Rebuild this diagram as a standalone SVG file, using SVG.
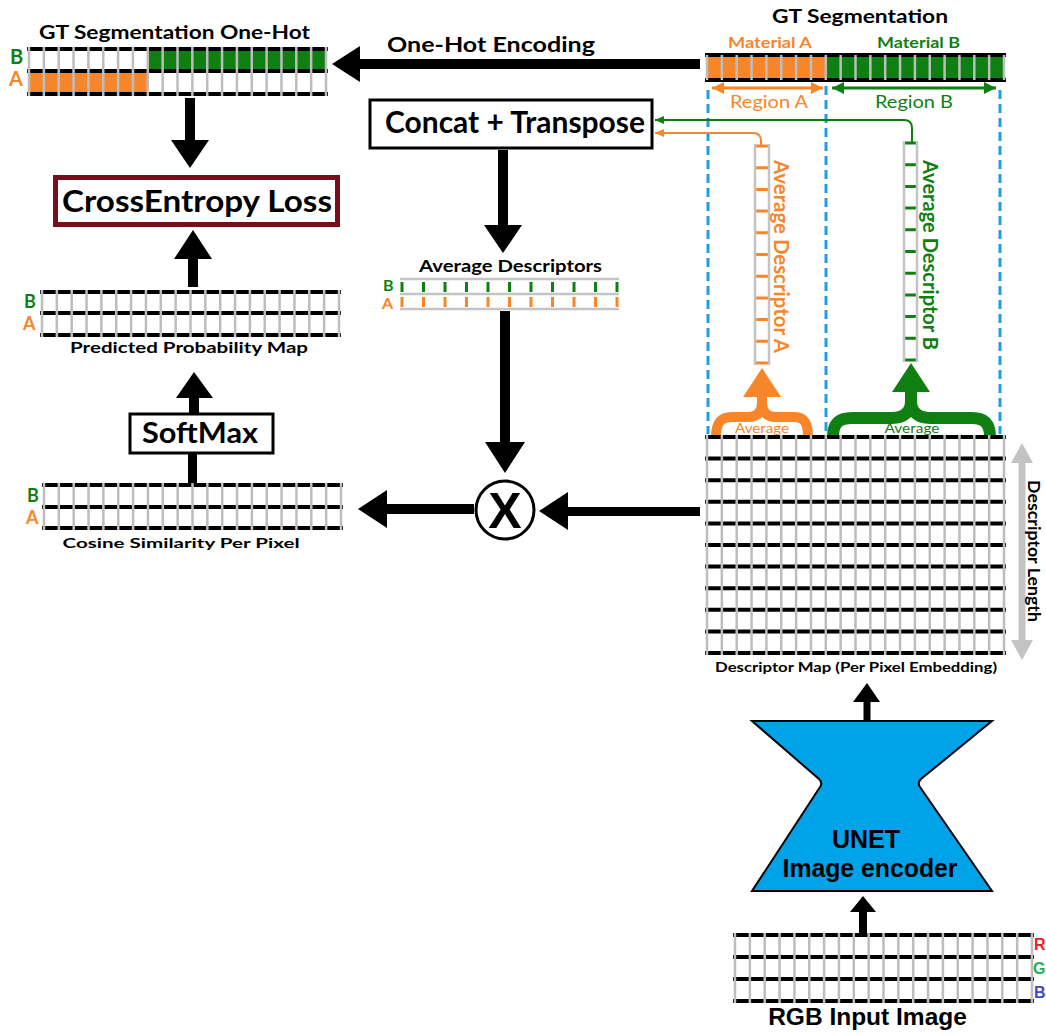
<svg xmlns="http://www.w3.org/2000/svg" width="1046" height="1036" viewBox="0 0 1046 1036">
<style>
.t{font-family:Lato,"Open Sans","Liberation Sans",sans-serif;font-weight:700;fill:#000}
.n{font-family:Lato,"Open Sans","Liberation Sans",sans-serif;font-weight:400}
.a{font-family:"Liberation Sans",Arial,sans-serif;font-weight:700}
.or{fill:#f7862b}.gr{fill:#0f7f12}
.hb{stroke:#000;stroke-width:4}
.vg{stroke:#bdbdbd;stroke-dasharray:2.5 12.35}
.gh{stroke:#c4c4c4;stroke-width:2.5}
.box{fill:#fff;stroke:#000;stroke-width:3}
.blk{fill:#000}
.dash{stroke:#1aa1e3;stroke-width:3;stroke-dasharray:9 5;fill:none}
</style>
<defs>
<marker id="mo" markerUnits="userSpaceOnUse" markerWidth="12" markerHeight="12" refX="12" refY="6" orient="auto-start-reverse"><path d="M0,0 L12,6 L0,12 z" fill="#f7862b"/></marker>
<marker id="mg" markerUnits="userSpaceOnUse" markerWidth="12" markerHeight="12" refX="12" refY="6" orient="auto-start-reverse"><path d="M0,0 L12,6 L0,12 z" fill="#0f7f12"/></marker>
<marker id="so" markerUnits="userSpaceOnUse" markerWidth="9" markerHeight="9" refX="9" refY="4.5" orient="auto"><path d="M0,0.5 L9,4.5 L0,8.5 z" fill="#f7862b"/></marker>
<marker id="sg" markerUnits="userSpaceOnUse" markerWidth="9" markerHeight="9" refX="9" refY="4.5" orient="auto"><path d="M0,0.5 L9,4.5 L0,8.5 z" fill="#0f7f12"/></marker>
</defs>

<!-- region guides -->
<g id="region-guides">
<line class="dash" x1="708" y1="90" x2="708" y2="434"/>
<line class="dash" x1="826" y1="86" x2="826" y2="434"/>
<line class="dash" x1="1000" y1="90" x2="1000" y2="434"/>
<line x1="712" y1="88" x2="823" y2="88" stroke="#f7862b" stroke-width="3" marker-start="url(#mo)" marker-end="url(#mo)"/>
<line x1="832" y1="88" x2="996" y2="88" stroke="#0f7f12" stroke-width="3" marker-start="url(#mg)" marker-end="url(#mg)"/>
<text class="n or" x="769" y="108" font-size="17" text-anchor="middle" textLength="78" lengthAdjust="spacingAndGlyphs">Region A</text>
<text class="n gr" x="914" y="108" font-size="17" text-anchor="middle" textLength="78" lengthAdjust="spacingAndGlyphs">Region B</text>
</g>

<!-- GT segmentation one-hot -->
<g id="gt-onehot">
<text class="t" x="174.5" y="39" font-size="18" text-anchor="middle" textLength="271" lengthAdjust="spacingAndGlyphs">GT Segmentation One-Hot</text>
<rect x="147.8" y="49" width="178.2" height="22" fill="#0f7f12"/>
<rect x="29" y="71" width="118.8" height="23" fill="#f7862b"/>
<line class="hb" x1="27" y1="49" x2="328" y2="49"/>
<line class="hb" x1="27" y1="71" x2="328" y2="71"/>
<line class="hb" x1="27" y1="94" x2="328" y2="94"/>
<line class="vg" x1="27.75" y1="71.5" x2="327.25" y2="71.5" stroke-width="49"/>
<text class="t gr" x="10" y="64" font-size="20">B</text>
<text class="t or" x="9" y="86" font-size="20">A</text>
</g>

<!-- GT segmentation -->
<g id="gt-seg">
<text class="t" x="860" y="23" font-size="19" text-anchor="middle" textLength="176" lengthAdjust="spacingAndGlyphs">GT Segmentation</text>
<text class="t or" x="770" y="48" font-size="15" text-anchor="middle" textLength="84" lengthAdjust="spacingAndGlyphs">Material A</text>
<text class="t gr" x="918.5" y="48" font-size="15" text-anchor="middle" textLength="83" lengthAdjust="spacingAndGlyphs">Material B</text>
<rect x="707" y="55" width="118.8" height="25" fill="#f7862b"/>
<rect x="825.8" y="55" width="178.2" height="25" fill="#0f7f12"/>
<line class="hb" x1="705" y1="55" x2="1006" y2="55"/>
<line class="hb" x1="705" y1="80" x2="1006" y2="80"/>
<line class="vg" x1="705.75" y1="67.5" x2="1005.25" y2="67.5" stroke-width="25"/>
</g>

<!-- Concat + Transpose -->
<g id="concat">
<rect class="box" x="370" y="100" width="282" height="48"/>
<text class="t" x="515" y="133" font-size="31" text-anchor="middle" textLength="260" lengthAdjust="spacingAndGlyphs">Concat + Transpose</text>
</g>

<!-- Average descriptor A -->
<g id="avg-desc-a">
<path d="M755,146 H769 M755,167.7 H769 M755,189.4 H769 M755,211.1 H769 M755,232.8 H769 M755,254.5 H769 M755,276.2 H769 M755,297.9 H769 M755,319.6 H769 M755,341.3 H769 M755,363 H769" stroke="#f7862b" stroke-width="3"/>
<path d="M755,144 V365 M769,144 V365" stroke="#c4c4c4" stroke-width="2.5"/>
<text class="t or" transform="translate(774,160) rotate(90)" font-size="20" textLength="193" lengthAdjust="spacingAndGlyphs">Average Descriptor A</text>
</g>

<!-- Average descriptor B -->
<g id="avg-desc-b">
<path d="M904,143 H917 M904,164.7 H917 M904,186.4 H917 M904,208.1 H917 M904,229.8 H917 M904,251.5 H917 M904,273.2 H917 M904,294.9 H917 M904,316.6 H917 M904,338.3 H917 M904,360 H917" stroke="#0f7f12" stroke-width="3"/>
<path d="M904,141 V362 M917,141 V362" stroke="#c4c4c4" stroke-width="2.5"/>
<text class="t gr" transform="translate(923,160) rotate(90)" font-size="20" textLength="190" lengthAdjust="spacingAndGlyphs">Average Descriptor B</text>
</g>

<!-- Average operations -->
<g id="average-a">
<path d="M716,437 C716,424 720,417 732,417 L748,417 C757,417 762,412 762,403 C762,412 767,417 776,417 L794,417 C805,417 808,424 808,437" fill="none" stroke="#f7862b" stroke-width="10"/>
<rect x="757" y="395" width="10" height="18" fill="#f7862b"/>
<polygon points="743,397 781,397 762,368" fill="#f7862b"/>
<text class="n or" x="762" y="433" font-size="13" text-anchor="middle" textLength="54" lengthAdjust="spacingAndGlyphs">Average</text>
</g>
<g id="average-b">
<path d="M833,437 C833,424 838,418 852,418 L892,418 C904,418 911,412 911,401 C911,412 918,418 930,418 L972,418 C985,418 990,424 990,437" fill="none" stroke="#0f7f12" stroke-width="12"/>
<rect x="905" y="390" width="12" height="22" fill="#0f7f12"/>
<polygon points="892,392 930,392 911,363" fill="#0f7f12"/>
<text class="n gr" x="912" y="433" font-size="13" text-anchor="middle" textLength="55" lengthAdjust="spacingAndGlyphs">Average</text>
</g>

<!-- Average descriptors (transposed) -->
<g id="avg-descriptors">
<text class="t" x="510.5" y="272" font-size="17" text-anchor="middle" textLength="183" lengthAdjust="spacingAndGlyphs">Average Descriptors</text>
<path d="M400,279 H619 M400,294 H619 M400,309 H619" class="gh"/>
<path d="M402,282 V292 M423.5,282 V292 M445,282 V292 M466.5,282 V292 M488,282 V292 M509.5,282 V292 M531,282 V292 M552.5,282 V292 M574,282 V292 M595.5,282 V292 M617,282 V292" stroke="#0f7f12" stroke-width="3"/>
<path d="M402,297 V307 M423.5,297 V307 M445,297 V307 M466.5,297 V307 M488,297 V307 M509.5,297 V307 M531,297 V307 M552.5,297 V307 M574,297 V307 M595.5,297 V307 M617,297 V307" stroke="#f7862b" stroke-width="3"/>
<text class="t gr" x="383" y="291" font-size="16">B</text>
<text class="t or" x="382" y="308.5" font-size="16">A</text>
</g>

<!-- Multiply -->
<g id="multiply">
<circle cx="505" cy="510" r="29" fill="#fff" stroke="#000" stroke-width="3"/>
<text class="a" x="505" y="528" font-size="50" text-anchor="middle">X</text>
</g>

<!-- CrossEntropy Loss -->
<g id="crossentropy">
<rect x="55.5" y="177.5" width="282" height="47" fill="#fff" stroke="#7b0c1c" stroke-width="5"/>
<text class="t" x="197" y="212" font-size="30" text-anchor="middle" textLength="270" lengthAdjust="spacingAndGlyphs">CrossEntropy Loss</text>
</g>

<!-- Predicted probability map -->
<g id="prob-map">
<line class="hb" x1="40" y1="292" x2="341" y2="292"/>
<line class="hb" x1="40" y1="313" x2="341" y2="313"/>
<line class="hb" x1="40" y1="335" x2="341" y2="335"/>
<line class="vg" x1="40.75" y1="313.5" x2="340.25" y2="313.5" stroke-width="47"/>
<text class="t gr" x="24" y="308" font-size="18">B</text>
<text class="t or" x="23" y="330" font-size="18">A</text>
<text class="t" x="189" y="353" font-size="15" text-anchor="middle" textLength="238" lengthAdjust="spacingAndGlyphs">Predicted Probability Map</text>
</g>

<!-- SoftMax -->
<g id="softmax">
<rect class="box" x="130" y="414" width="143" height="39"/>
<text class="t" x="200" y="443" font-size="28" text-anchor="middle" textLength="116" lengthAdjust="spacingAndGlyphs">SoftMax</text>
</g>

<!-- Cosine similarity -->
<g id="cosine">
<line class="hb" x1="42" y1="485" x2="343" y2="485"/>
<line class="hb" x1="42" y1="507" x2="343" y2="507"/>
<line class="hb" x1="42" y1="528" x2="343" y2="528"/>
<line class="vg" x1="42.75" y1="506.5" x2="342.25" y2="506.5" stroke-width="47"/>
<text class="t gr" x="27" y="502" font-size="18">B</text>
<text class="t or" x="26" y="524" font-size="18">A</text>
<text class="t" x="181" y="548" font-size="13" text-anchor="middle" textLength="237" lengthAdjust="spacingAndGlyphs">Cosine Similarity Per Pixel</text>
</g>

<!-- Descriptor map -->
<g id="descriptor-map">
<path class="hb" d="M705,437 H1006 M705,458.6 H1006 M705,480.2 H1006 M705,501.8 H1006 M705,523.4 H1006 M705,545 H1006 M705,566.6 H1006 M705,588.2 H1006 M705,609.8 H1006 M705,631.4 H1006 M705,653 H1006"/>
<line class="vg" x1="705.75" y1="545" x2="1005.25" y2="545" stroke-width="220"/>
<text class="t" x="856" y="672" font-size="14" text-anchor="middle" textLength="282" lengthAdjust="spacingAndGlyphs">Descriptor Map (Per Pixel Embedding)</text>
<line x1="1022" y1="461" x2="1022" y2="642" stroke="#c3c3c3" stroke-width="7"/>
<polygon points="1011,463 1033,463 1022,443" fill="#c3c3c3"/>
<polygon points="1011,640 1033,640 1022,660" fill="#c3c3c3"/>
<text class="t" transform="translate(1028,480) rotate(90)" font-size="17" textLength="142" lengthAdjust="spacingAndGlyphs">Descriptor Length</text>
</g>

<!-- UNET -->
<g id="unet">
<path d="M752,721 L992,721 L921,779 Q917,783 920,787 L992,891 L752,891 L820,787 Q823,783 819,779 Z" fill="#00a2e8" stroke="#000" stroke-width="2"/>
<text class="a" x="866" y="848" font-size="25" text-anchor="middle">UNET</text>
<text class="a" x="870" y="877" font-size="25" text-anchor="middle" textLength="175" lengthAdjust="spacingAndGlyphs">Image encoder</text>
</g>

<!-- RGB input -->
<g id="rgb-input">
<path class="hb" d="M733,935 H1034 M733,957 H1034 M733,979 H1034 M733,1001 H1034"/>
<line class="vg" x1="733.75" y1="968" x2="1033.25" y2="968" stroke-width="70"/>
<text class="a" x="1034" y="950" font-size="16" fill="#e8202a">R</text>
<text class="a" x="1033" y="974" font-size="16" fill="#22b14c">G</text>
<text class="a" x="1034" y="998" font-size="16" fill="#3f48cc">B</text>
<text class="a" x="867.5" y="1025" font-size="24.5" text-anchor="middle">RGB Input Image</text>
</g>

<!-- connectors -->
<g id="connectors">
<polygon class="blk" points="700,59 360,59 360,46 332,64 360,82 360,69 700,69"/>
<text class="t" x="491" y="52" font-size="20" text-anchor="middle" textLength="208" lengthAdjust="spacingAndGlyphs">One-Hot Encoding</text>
<polygon class="blk" points="185,98 195,98 195,140 209,140 190,168 171,140 185,140"/>
<polygon class="blk" points="188,287 198,287 198,259 212,259 193,230 174,259 188,259"/>
<polygon class="blk" points="189,413 199,413 199,398 213,398 194,372 176,398 189,398"/>
<rect class="blk" x="188" y="453" width="9" height="30"/>
<polygon class="blk" points="498,150 508,150 508,225 522,225 503,253 484,225 498,225"/>
<polygon class="blk" points="500,311 510,311 510,442 525,442 505,473 485,442 500,442"/>
<polygon class="blk" points="700,507 568,507 568,492 539,511 568,530 568,516 700,516"/>
<polygon class="blk" points="474,504 387,504 387,490 358,509 387,528 387,514 474,514"/>
<polygon class="blk" points="863.5,720 870.5,720 870.5,702 880,702 867,683 853,702 863.5,702"/>
<polygon class="blk" points="859,933 867,933 867,912 876,912 863,896 850,912 859,912"/>
<path d="M912,143 V128 Q912,120 904,120 H655" fill="none" stroke="#0f7f12" stroke-width="2" marker-end="url(#sg)"/>
<path d="M761,146 V141 Q761,133 753,133 H655" fill="none" stroke="#f7862b" stroke-width="2" marker-end="url(#so)"/>
</g>
</svg>
